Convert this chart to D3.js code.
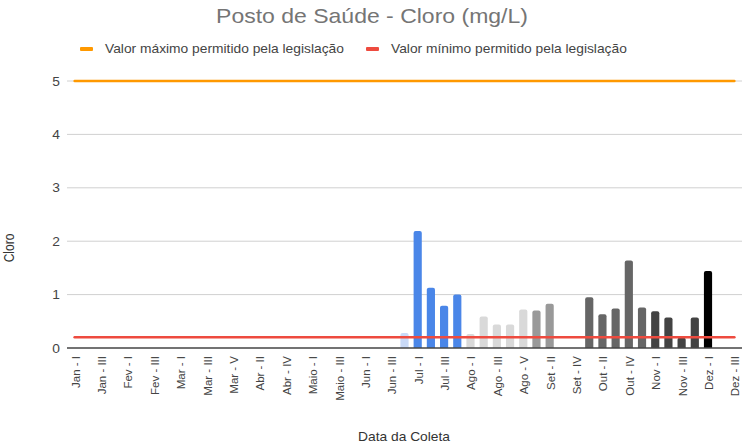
<!DOCTYPE html>
<html>
<head>
<meta charset="utf-8">
<script src="https://cdn.jsdelivr.net/npm/d3@7"></script>
<style>
  body { margin: 0; background: #fff; }
  svg { font-family: Arial, "Liberation Sans", sans-serif; }
</style>
</head>
<body>
<script>
const categories = [
  'Jan - I','Jan - II','Jan - III','Jan - IV',
  'Fev - I','Fev - II','Fev - III','Fev - IV',
  'Mar - I','Mar - II','Mar - III','Mar - IV','Mar - V',
  'Abr - I','Abr - II','Abr - III','Abr - IV','Abr - V',
  'Maio - I','Maio - II','Maio - III','Maio - IV',
  'Jun - I','Jun - II','Jun - III','Jun - IV',
  'Jul - I','Jul - II','Jul - III','Jul - IV',
  'Ago - I','Ago - II','Ago - III','Ago - IV','Ago - V',
  'Set - I','Set - II','Set - III','Set - IV',
  'Out - I','Out - II','Out - III','Out - IV','Out - V',
  'Nov - I','Nov - II','Nov - III','Nov - IV',
  'Dez - I','Dez - II','Dez - III'
]

// cloro measured, null = no sample
const cloro = [
  null,null,null,null,
  null,null,null,null,
  null,null,null,null,null,
  null,null,null,null,null,
  null,null,null,null,
  null,null,null,0.28,
  2.19,1.13,0.79,1.0,
  0.26,0.59,0.44,0.44,0.72,
  0.70,0.83,null,null,
  0.95,0.63,0.74,1.64,0.76,
  0.69,0.57,0.19,0.57,
  1.44,null,null
]

// bar colour per month
const monthColors = {
  Jun: '#c9daf8', Jul: '#4a86e8', Ago: '#d9d9d9', Set: '#999999',
  Out: '#666666', Nov: '#434343', Dez: '#000000'
}

const yTicks = [0, 1, 2, 3, 4, 5]
const maxLimit = 5
const minLimit = 0.2
const legendLabels = ['Valor máximo permitido pela legislação', 'Valor mínimo permitido pela legislação']
const legendColors = ['#ff9900', '#ee4b3f']

const width = 742, height = 446
const stretch = 1.15 // the source picture is a bit wider than tall
const svg = d3.select('body').append('svg')
    .attr('width', width)
    .attr('height', height)

const x = d3.scaleBand()
    .domain(categories)
    .range([68, 741])
    .paddingInner(0.38)
    .paddingOuter(0.19)

const y = d3.scaleLinear()
    .domain([0, 5])
    .range([348, 81])

// gridlines
svg.append('g')
    .selectAll('line')
    .data(yTicks.filter(d => d > 0))
    .enter()
    .append('line')
    .attr('x1', 67)
    .attr('x2', 742)
    .attr('y1', d => y(d))
    .attr('y2', d => y(d))
    .attr('stroke', '#d0d0d0')
    .attr('stroke-width', 1)

// y labels
svg.append('g')
    .selectAll('text')
    .data(yTicks)
    .enter()
    .append('text')
    .attr('transform', d => `translate(60,${y(d) + 4.5}) scale(${stretch},1)`)
    .attr('text-anchor', 'end')
    .attr('font-size', 12)
    .attr('fill', '#444')
    .text(d => d)

// bars
const bars = categories.map((c, i) => ({ cat: c, value: cloro[i], month: c.split(' - ')[0] }))
    .filter(d => d.value !== null)

svg.append('g')
    .selectAll('path')
    .data(bars)
    .enter()
    .append('path')
    .attr('d', d => {
        const x0 = x(d.cat), w = x.bandwidth(), top = y(d.value), bot = y(0)
        const r = Math.min(2, (bot - top) / 2)
        return `M${x0},${bot}V${top + r}Q${x0},${top} ${x0 + r},${top}H${x0 + w - r}Q${x0 + w},${top} ${x0 + w},${top + r}V${bot}Z`
    })
    .attr('fill', d => monthColors[d.month])

// baseline
svg.append('line')
    .attr('x1', 67)
    .attr('x2', 742)
    .attr('y1', y(0))
    .attr('y2', y(0))
    .attr('stroke', '#444')
    .attr('stroke-width', 1.5)

// limit lines across the categories
const firstX = x(categories[0]) + x.bandwidth() / 2
const lastX = x(categories[categories.length - 1]) + x.bandwidth() / 2
;[[maxLimit, legendColors[0]], [minLimit, legendColors[1]]].forEach(([v, col]) => {
    svg.append('line')
        .attr('x1', firstX)
        .attr('x2', lastX)
        .attr('y1', y(v))
        .attr('y2', y(v))
        .attr('stroke', col)
        .attr('stroke-width', 2.5)
        .attr('stroke-linecap', 'round')
})

// x labels, every other category
svg.append('g')
    .selectAll('text')
    .data(categories.filter((c, i) => i % 2 === 0))
    .enter()
    .append('text')
    .attr('transform', d => `translate(${x(d) + x.bandwidth() / 2 + 5},356) rotate(-90)`)
    .attr('text-anchor', 'end')
    .attr('font-size', 11.5)
    .attr('fill', '#444')
    .text(d => d)

// title
svg.append('text')
    .attr('transform', `translate(372,23) scale(${stretch},1)`)
    .attr('text-anchor', 'middle')
    .attr('font-size', 20)
    .attr('fill', '#757575')
    .text('Posto de Saúde - Cloro (mg/L)')

// legend
const legendX = [80, 366]
legendLabels.forEach((label, i) => {
    svg.append('rect')
        .attr('x', legendX[i])
        .attr('y', 47)
        .attr('width', 13)
        .attr('height', 4)
        .attr('rx', 1)
        .attr('fill', legendColors[i])
    svg.append('text')
        .attr('transform', `translate(${legendX[i] + 25},53) scale(${stretch},1)`)
        .attr('font-size', 12)
        .attr('fill', '#444')
        .text(label)
})

// axis titles
svg.append('text')
    .attr('transform', `translate(404,441) scale(${stretch},1)`)
    .attr('text-anchor', 'middle')
    .attr('font-size', 12)
    .attr('fill', '#333')
    .text('Data da Coleta')

svg.append('text')
    .attr('transform', `translate(14,248) rotate(-90) scale(1,${stretch})`)
    .attr('text-anchor', 'middle')
    .attr('font-size', 12)
    .attr('fill', '#333')
    .text('Cloro')
</script>
</body>
</html>
